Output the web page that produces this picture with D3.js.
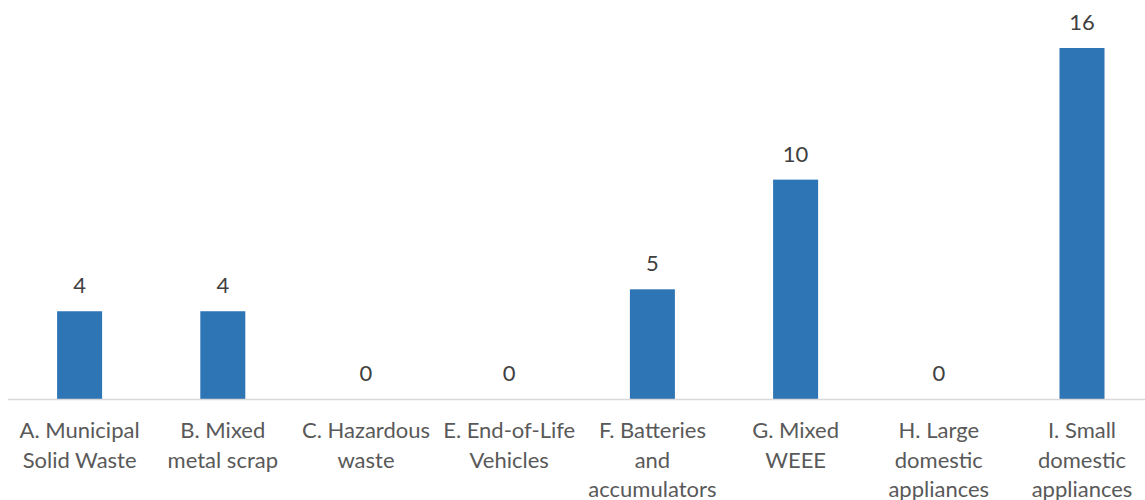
<!DOCTYPE html>
<html><head><meta charset="utf-8">
<script src="https://cdn.jsdelivr.net/npm/d3@7"></script>
<style>html,body{margin:0;padding:0;background:#fff;overflow:hidden}</style>
</head><body>
<svg id="chart" width="1145" height="500"></svg>
<script>
const categories = ["A. Municipal Solid Waste","B. Mixed metal scrap","C. Hazardous waste","E. End-of-Life Vehicles","F. Batteries and accumulators","G. Mixed WEEE","H. Large domestic appliances","I. Small domestic appliances"];
const categoryLines = [["A. Municipal","Solid Waste"],["B. Mixed","metal scrap"],["C. Hazardous","waste"],["E. End-of-Life","Vehicles"],["F. Batteries","and","accumulators"],["G. Mixed","WEEE"],["H. Large","domestic","appliances"],["I. Small","domestic","appliances"]];
const values = [4,4,0,0,5,10,0,16];

const svg = d3.select("#chart");
const baseY = 399;
const x = d3.scaleBand().domain(categories).range([8, 1153.6]).padding(0);
const y = d3.scaleLinear().domain([0, 16]).range([baseY, 48]);
const barW = 45;
const font = "Lato, 'Open Sans', sans-serif";
const fs = 22;

svg.selectAll("rect.bar").data(values).enter().append("rect")
  .attr("class","bar")
  .attr("x",(d,i)=>x(categories[i]) + x.bandwidth()/2 - barW/2)
  .attr("width",barW)
  .attr("y",d=>y(d))
  .attr("height",d=>baseY - y(d))
  .attr("fill","#2E75B6");

svg.append("line").attr("x1",8).attr("x2",1145).attr("y1",baseY+0.5).attr("y2",baseY+0.5)
  .attr("stroke","#D9D9D9").attr("stroke-width",1.5);

svg.selectAll("text.val").data(values).enter().append("text")
  .attr("class","val")
  .attr("x",(d,i)=>x(categories[i]) + x.bandwidth()/2)
  .attr("y",d=>y(d) - 18)
  .attr("text-anchor","middle")
  .attr("font-family",font).attr("font-size",fs).attr("fill","#404040")
  .text(d=>d);

const lab = svg.selectAll("text.cat").data(categoryLines).enter().append("text")
  .attr("class","cat")
  .attr("text-anchor","middle")
  .attr("font-family",font).attr("font-size",fs).attr("fill","#595959");
lab.each(function(lines,i){
  const t = d3.select(this);
  lines.forEach((l,j)=>{
    t.append("tspan").attr("x", x(categories[i]) + x.bandwidth()/2)
      .attr("y", 438 + j*29.7).text(l);
  });
});
</script>
</body></html>
